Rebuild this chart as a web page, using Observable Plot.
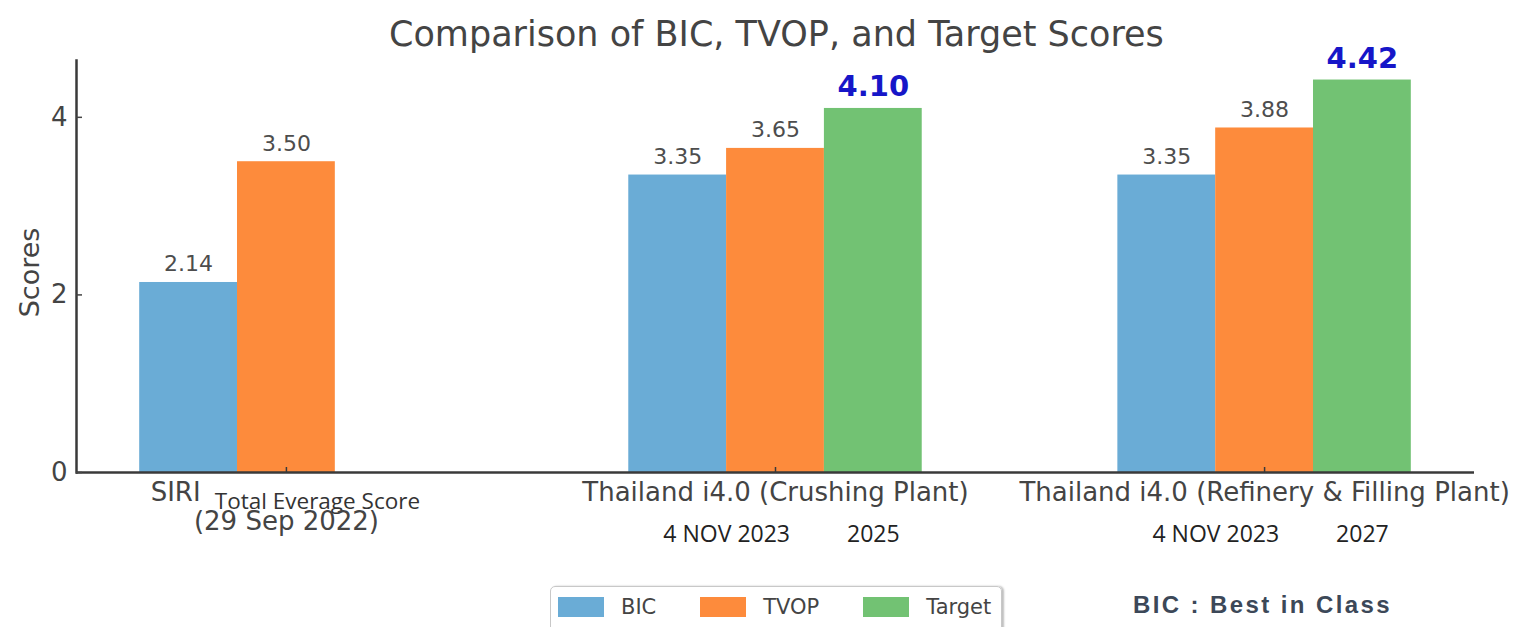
<!DOCTYPE html>
<html><head><meta charset="utf-8">
<script src="https://cdn.jsdelivr.net/npm/d3@7"></script>
<script src="https://cdn.jsdelivr.net/npm/@observablehq/plot@0.6"></script>
<style>
body{margin:0;background:#fff;}
#wrap{position:relative;width:1514px;height:627px;overflow:hidden;background:#fff;font-family:"DejaVu Sans",sans-serif;}
#title{position:absolute;left:389px;top:17px;font-size:35px;line-height:35px;color:#444;white-space:nowrap;}
#chart{position:absolute;left:0;top:60px;}
#legend{position:absolute;left:550px;top:586px;width:452px;height:60px;border:1.5px solid #c8c8c8;border-radius:5px;box-shadow:2px 0 2px rgba(0,0,0,0.25);display:flex;align-items:flex-start;padding-top:10px;box-sizing:border-box;padding-left:7px;}
.item{display:flex;align-items:center;margin-right:44px;}
.sw{width:46px;height:20px;margin-right:17px;}
.lt{font-size:21px;color:#444;line-height:20px;}
#note{position:absolute;left:1133px;top:591px;font-family:"Liberation Sans",Arial,sans-serif;font-weight:bold;font-size:24px;letter-spacing:2.4px;color:#3c4858;white-space:nowrap;line-height:28px;}
</style></head>
<body>
<div id="wrap">
  <div id="title"></div>
  <div id="chart"></div>
  <div id="legend"></div>
  <div id="note"></div>
</div>
<script>
const titleText = "Comparison of BIC, TVOP, and Target Scores";
const categories = ["SIRI", "Thailand i4.0 (Crushing Plant)", "Thailand i4.0 (Refinery & Filling Plant)"];
const series = ["BIC", "TVOP", "Target"];
const bicValues = [2.14, 3.35, 3.35];
const tvopValues = [3.50, 3.65, 3.88];
const targetValues = [null, 4.10, 4.42];
const colors = ["#6aacd6", "#fd8b3c", "#72c273"];
const yTicks = [0, 2, 4];
const yLabel = "Scores";
const siriNote = "Total Everage Score";
const siriDate = "(29 Sep 2022)";
const startDates = [null, "4 NOV 2023", "4 NOV 2023"];
const targetYears = [null, "2025", "2027"];
const noteText = "BIC : Best in Class";

document.getElementById("title").textContent = titleText;
document.getElementById("note").textContent = noteText;

const key = (c, s) => c + " | " + s;
// band domain: three slots per category, two empty slots between groups
const xDomain = categories.flatMap((c, i) => [
  ...series.map(s => key(c, s)),
  ...(i < categories.length - 1 ? [`gap ${i} a`, `gap ${i} b`] : [])
]);

const seriesValues = [bicValues, tvopValues, targetValues];
const rows = [];
categories.forEach((c, i) => series.forEach((s, j) => {
  const v = seriesValues[j][i];
  if (v != null) rows.push({category: c, series: s, key: key(c, s), value: v});
}));
const catRows = categories.map((c, i) => ({
  category: c, start: startDates[i], year: targetYears[i],
  first: key(c, series[0]), mid: key(c, series[1]), last: key(c, series[2])
}));
const siriRow = catRows.filter(d => d.category === categories[0]);
const otherRows = catRows.filter(d => d.category !== categories[0]);

const chart = Plot.plot({
  width: 1514, height: 500,
  marginTop: 0, marginBottom: 88, marginLeft: 76, marginRight: 40,
  style: {fontFamily: "DejaVu Sans", background: "transparent", overflow: "visible"},
  x: {domain: xDomain, paddingInner: 0, paddingOuter: 0.646, round: false, axis: null},
  y: {domain: [0, 4.64], axis: null},
  color: {domain: series, range: colors},
  marks: [
    Plot.barY(rows, {x: "key", y: "value", fill: "series"}),
    Plot.text(rows.filter(d => d.series !== "Target"), {x: "key", y: "value", text: d => d.value.toFixed(2), lineAnchor: "bottom", dy: -11, fontSize: 22, fill: "#4d4d4d"}),
    Plot.text(rows.filter(d => d.series === "Target"), {x: "key", y: "value", text: d => d.value.toFixed(2), lineAnchor: "bottom", dy: -12, fontSize: 29, fontWeight: "bold", fill: "#1616c8"}),
    Plot.ruleY([0], {stroke: "#3a3a3a", strokeWidth: 2.5}),
    Plot.frame({anchor: "left", stroke: "#3a3a3a", strokeWidth: 2.5}),
    Plot.axisX(catRows.map(d => d.mid), {anchor: "bottom", tickSize: -5, tickFormat: () => "", label: null, stroke: "#3a3a3a", strokeWidth: 1.5}),
    Plot.axisY(yTicks, {anchor: "left", tickSize: -6, tickPadding: 15, tickFormat: d => String(d), fontSize: 26, color: "#444", label: null, strokeWidth: 1.5}),
    Plot.text([yLabel], {frameAnchor: "left", textAnchor: "middle", rotate: -90, dx: -46, dy: 6, fontSize: 27, fill: "#444"}),
    Plot.text(otherRows, {x: "mid", text: "category", frameAnchor: "bottom", dy: 28, fontSize: 26, fill: "#444"}),
    Plot.text(siriRow, {x: "first", text: "category", frameAnchor: "bottom", dx: -13, dy: 28, fontSize: 26, fill: "#444"}),
    Plot.text(siriRow, {x: "mid", text: () => siriNote, frameAnchor: "bottom", dx: 31, dy: 36, fontSize: 22.5, fontFamily: "Open Sans", fill: "#333"}),
    Plot.text(siriRow, {x: "mid", text: () => siriDate, frameAnchor: "bottom", dy: 57, fontSize: 26, fill: "#444"}),
    Plot.text(otherRows, {x: "first", text: "start", frameAnchor: "bottom", dx: 49, dy: 69, fontSize: 23, fontFamily: "Open Sans", fill: "#222"}),
    Plot.text(otherRows, {x: "last", text: "year", frameAnchor: "bottom", dy: 69, fontSize: 23, fontFamily: "Open Sans", fill: "#222"})
  ]
});
document.getElementById("chart").appendChild(chart);

const legend = document.getElementById("legend");
series.forEach((s, i) => {
  const item = document.createElement("div"); item.className = "item";
  const sw = document.createElement("div"); sw.className = "sw"; sw.style.background = colors[i];
  const lt = document.createElement("div"); lt.className = "lt"; lt.textContent = s;
  item.appendChild(sw); item.appendChild(lt); legend.appendChild(item);
});
</script>
</body></html>
